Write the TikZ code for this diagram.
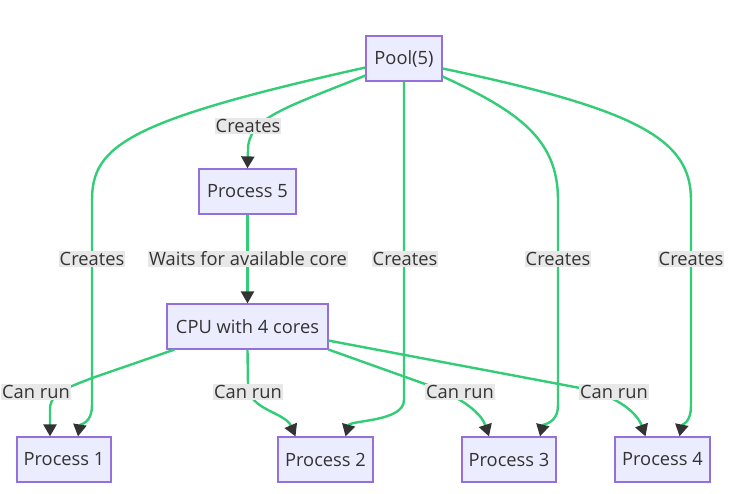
\documentclass[tikz,border=0pt]{standalone}
\usepackage{fontspec}
\setmainfont{Open Sans}
\usetikzlibrary{arrows.meta}
\definecolor{nodefill}{HTML}{ECECFF}
\definecolor{nodeborder}{HTML}{9370DB}
\definecolor{edgegreen}{HTML}{33CC77}
\definecolor{tipgray}{HTML}{333333}
\definecolor{labelbg}{HTML}{E8E8E8}
\definecolor{txt}{HTML}{333333}
\tikzset{
  box/.style={draw=nodeborder, fill=nodefill, line width=1.2pt, minimum height=45pt, inner sep=0pt, text=txt, font=\fontsize{18.3}{20}\selectfont},
  edge/.style={draw=edgegreen, line width=2.4pt, -{Triangle[width=13pt,length=12pt,color=tipgray]}},
  lbl/.style={fill=labelbg, text=txt, inner sep=1pt, font=\fontsize{18.3}{20}\selectfont}
}
\begin{document}
\begin{tikzpicture}[x=1pt,y=-1pt]
\useasboundingbox (0,0) rectangle (732,494);
\fill[white] (0,0) rectangle (732,494);
\node[box, minimum width=76pt] (pool) at (404,58.5) {Pool(5)};
\node[box, minimum width=97pt] (p5) at (247.5,191.5) {Process 5};
\node[box, minimum width=161pt] (cpu) at (247.5,326.5) {CPU with 4 cores};
\node[box, minimum width=94pt] (p1) at (64,459.5) {Process 1};
\node[box, minimum width=95pt] (p2) at (325.5,459.5) {Process 2};
\node[box, minimum width=94pt] (p3) at (509,459.5) {Process 3};
\node[box, minimum width=95pt] (p4) at (662.5,459.5) {Process 4};
% edges from Pool
\draw[edge] ([yshift=-17pt]pool.west) .. controls (285,108) and (248,118) .. (248,150) -- (p5.north);
\draw[edge] ([yshift=-9pt]pool.west) .. controls (130,120) and (92,145) .. (92,200) -- (92,405) .. controls (92,424) and (80,424) .. ([xshift=14pt]p1.north);
\draw[edge] (pool.south) -- (404,400) .. controls (404,422) and (350,420) .. ([xshift=20pt]p2.north);
\draw[edge] ([yshift=-18pt]pool.east) .. controls (520,112) and (558,140) .. (558,200) -- (558,405) .. controls (558,424) and (543,424) .. ([xshift=31pt]p3.north);
\draw[edge] ([yshift=-10pt]pool.east) .. controls (640,110) and (691,140) .. (691,200) -- (691,405) .. controls (691,424) and (682,424) .. ([xshift=17pt]p4.north);
% P5 to CPU
\draw[edge] (p5.south) -- (cpu.north);
% edges from CPU
\draw[edge] ([xshift=8pt]cpu.south west) -- (95,377) .. controls (60,390) and (50,395) .. (50,410) -- ([xshift=-14pt]p1.north);
\draw[edge] (cpu.south) -- (248,385) .. controls (248,410) and (285,412) .. ([xshift=-30pt]p2.north);
\draw[edge] (cpu.south east) -- (425,384) .. controls (465,398) and (482,415) .. ([xshift=-20pt]p3.north);
\draw[edge] ([yshift=9pt]cpu.south east) -- (580,388) .. controls (620,396) and (638,415) .. ([xshift=-17pt]p4.north);
% labels
\node[lbl] (l1) at (248,126) {Creates};
\node[lbl] (l2) at (92,259) {Creates};
\node[lbl] (l3) at (248,259) {Waits for available core};
\node[lbl] (l4) at (405,259) {Creates};
\node[lbl] (l5) at (558,259) {Creates};
\node[lbl] (l6) at (691,259) {Creates};
\node[lbl] (l7) at (36,392) {Can run};
\node[lbl] (l8) at (248,392) {Can run};
\node[lbl] (l9) at (460,392) {Can run};
\node[lbl] (l10) at (614,392) {Can run};
\end{tikzpicture}
\end{document}
